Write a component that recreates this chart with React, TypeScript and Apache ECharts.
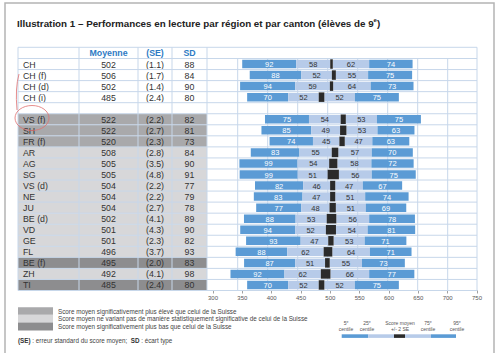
import React, { useEffect, useRef } from "react";
import * as echarts from "echarts";

// ---- data ----
const rowNames = ["CH", "CH (f)", "CH (d)", "CH (i)", "", "VS (f)", "SH", "FR (f)", "AR", "AG", "SG", "VS (d)", "NE", "JU", "BE (d)", "VD", "GE", "FL", "BE (f)", "ZH", "TI"];
const means = [502, 506, 502, 485, null, 522, 522, 520, 508, 505, 505, 504, 504, 504, 502, 501, 501, 496, 495, 492, 485];
const seValues = [1.1, 1.7, 1.4, 2.4, null, 2.2, 2.7, 2.3, 2.8, 3.5, 4.8, 2.2, 2.2, 2.7, 4.1, 4.3, 2.3, 3.7, 2.0, 4.1, 2.4];
const sdValues = [88, 84, 90, 80, null, 82, 81, 73, 84, 90, 91, 77, 79, 78, 89, 90, 82, 93, 83, 98, 80];
const p5to25 = [92, 88, 94, 70, null, 75, 85, 74, 83, 99, 99, 82, 83, 77, 88, 94, 93, 88, 87, 92, 70];
const p25toMean = [58, 52, 59, 52, null, 54, 49, 45, 55, 54, 51, 46, 47, 48, 53, 52, 47, 62, 51, 62, 52];
const meanTo75 = [62, 55, 64, 52, null, 53, 53, 47, 57, 58, 56, 47, 51, 51, 56, 54, 53, 64, 55, 66, 52];
const p75to95 = [74, 75, 73, 75, null, 75, 63, 63, 70, 72, 75, 67, 74, 69, 78, 81, 71, 71, 73, 77, 75];
const rowGroups = ["ch", "ch", "ch", "ch", "blank", "higher", "higher", "higher", "same", "same", "same", "same", "same", "same", "same", "same", "same", "same", "lower", "same", "lower"];
const axisMin = 300;
const axisMax = 750;
const axisStep = 50;

const headers = ["Moyenne", "(SE)", "SD"];
const legendTexts = [
  "Score moyen significativement plus élevé que celui de la Suisse",
  "Score moyen ne variant pas de manière statistiquement significative de celui de la Suisse",
  "Score moyen significativement plus bas que celui de la Suisse",
];
const keyLabels = [
  ["5{s|e}", "centile"],
  ["25{s|e}", "centile"],
  ["Score moyen", "+/- 2 SE"],
  ["75{s|e}", "centile"],
  ["95{s|e}", "centile"],
];

// ---- style ----
const FONT = "'Liberation Sans', Arial, sans-serif";
const DARK_BLUE = "#5b9bd5";
const LIGHT_BLUE = "#b7cbe9";
const BOX = "#2b2b2b";
const GRID_LINE = "#c7d7ea";
const TEXT = "#333333";
const groupFill: Record<string, string | null> = {
  ch: null,
  blank: null,
  higher: "#a9a9ab",
  same: "#d7d7d9",
  lower: "#8d8d8f",
};

const TABLE_LEFT = 18;
const TABLE_TOP = 47.3;
const HEADER_BOTTOM = 58.5;
const TABLE_BOTTOM = 290.5;
const TABLE_RIGHT = 477;
const colLines = [18, 79, 138, 172, 207];
const colCenters = [108.5, 155, 189.5];
const chartLines = [237.7, 267.7, 297.7, 327.7, 357.7, 387.7, 417.7, 447.7];

function txt(x: number, y: number, text: string, opts: any = {}) {
  const align = opts.align || "left";
  return {
    type: "text",
    x,
    y,
    z: opts.z ?? 110,
    style: {
      text,
      fill: opts.fill || TEXT,
      fontSize: opts.fontSize || 9,
      fontFamily: opts.fontFamily || FONT,
      fontWeight: opts.fontWeight || "normal",
      align,
      textAlign: align,
      verticalAlign: "middle",
      textVerticalAlign: "middle",
      rich: opts.rich,
    },
  };
}

export default function App() {
  const ref = useRef<HTMLDivElement>(null);

  useEffect(() => {
    if (!ref.current) return;
    const chart = echarts.init(ref.current, null, { renderer: "svg" });

    const seriesData = rowNames.map((_, i) => [axisMin, i]);

    const tableRender = (params: any, api: any) => {
      const i = params.dataIndex;
      const yc = api.coord([axisMin, i])[1];
      const band = api.size([0, 1])[1];
      const top = yc - band / 2;
      const children: any[] = [];
      const fill = groupFill[rowGroups[i]];
      if (fill) {
        children.push({
          type: "rect",
          shape: { x: TABLE_LEFT, y: top, width: colLines[4] - TABLE_LEFT, height: band },
          style: { fill },
        });
      }
      if (means[i] != null) {
        const ts = (x: number, t: string, align: string) => ({
          type: "text",
          x,
          y: yc + 0.5,
          style: {
            text: t,
            fill: TEXT,
            fontSize: 8.8,
            fontFamily: FONT,
            align,
            textAlign: align,
            verticalAlign: "middle",
            textVerticalAlign: "middle",
          },
        });
        children.push(ts(23, rowNames[i], "left"));
        children.push(ts(colCenters[0], String(means[i]), "center"));
        children.push(ts(colCenters[1], "(" + (seValues[i] as number).toFixed(1) + ")", "center"));
        children.push(ts(colCenters[2], String(sdValues[i]), "center"));
      }
      return { type: "group", children };
    };

    const lineRender = (params: any, api: any) => {
      const i = params.dataIndex;
      const yc = api.coord([axisMin, i])[1];
      const band = api.size([0, 1])[1];
      const yb = yc + band / 2;
      return {
        type: "line",
        shape: { x1: TABLE_LEFT, y1: yb, x2: TABLE_RIGHT, y2: yb },
        style: { stroke: GRID_LINE, lineWidth: 1 },
      };
    };

    const barRender = (params: any, api: any) => {
      const i = params.dataIndex;
      if (means[i] == null) return null;
      const m = means[i] as number;
      const se = seValues[i] as number;
      const a = p5to25[i] as number;
      const b = p25toMean[i] as number;
      const c = meanTo75[i] as number;
      const d = p75to95[i] as number;
      const lo = m - 2 * se;
      const hi = m + 2 * se;
      const yc = api.coord([m, i])[1];
      const band = api.size([0, 1])[1];
      const bh = band * 0.77;
      const boxH = band * 0.86;
      const X = (v: number) => api.coord([v, i])[0];
      const segs = [
        { from: lo - b - a, to: lo - b, fill: DARK_BLUE, label: a, color: "#ffffff" },
        { from: lo - b, to: lo, fill: LIGHT_BLUE, label: b, color: TEXT },
        { from: hi, to: hi + c, fill: LIGHT_BLUE, label: c, color: TEXT },
        { from: hi + c, to: hi + c + d, fill: DARK_BLUE, label: d, color: "#ffffff" },
      ];
      const children: any[] = [];
      segs.forEach((s) => {
        const x1 = X(s.from);
        const x2 = X(s.to);
        children.push({
          type: "rect",
          shape: { x: x1, y: yc - bh / 2, width: x2 - x1, height: bh },
          style: { fill: s.fill },
        });
      });
      const bx1 = X(lo);
      const bx2 = X(hi);
      children.push({
        type: "rect",
        shape: { x: bx1, y: yc - boxH / 2, width: bx2 - bx1, height: boxH },
        style: { fill: BOX },
      });
      segs.forEach((s) => {
        const cx = (X(s.from) + X(s.to)) / 2;
        children.push({
          type: "text",
          x: cx,
          y: yc + 0.5,
          style: {
            text: String(s.label),
            fill: s.color,
            fontSize: 7.5,
            fontFamily: FONT,
            align: "center",
            textAlign: "center",
            verticalAlign: "middle",
            textVerticalAlign: "middle",
          },
        });
      });
      return { type: "group", children };
    };

    const graphics: any[] = [];
    // outer page frame
    graphics.push({
      type: "rect",
      z: 0,
      shape: { x: 5, y: 3, width: 489, height: 360 },
      style: { fill: "none", stroke: "#b4b4b4", lineWidth: 1.5 },
    });
    // title
    graphics.push(
      txt(17, 23, "Illustration 1 – Performances en lecture par région et par canton (élèves de 9{sup|e})", {
        fontSize: 9.8,
        fontWeight: "bold",
        fill: "#222222",
        rich: {
          sup: { fontSize: 6, fontWeight: "bold", fontFamily: FONT, fill: "#222222", verticalAlign: "top", lineHeight: 12 },
        },
      })
    );
    // header
    headers.forEach((h, k) => {
      graphics.push(
        txt(colCenters[k], (TABLE_TOP + HEADER_BOTTOM) / 2 + 0.5, h, {
          align: "center",
          fontWeight: "bold",
          fill: "#2e7bc4",
          fontSize: 8.8,
        })
      );
    });
    // horizontal header lines
    [TABLE_TOP, HEADER_BOTTOM].forEach((y) => {
      graphics.push({
        type: "line",
        z: 100,
        shape: { x1: TABLE_LEFT, y1: y, x2: TABLE_RIGHT, y2: y },
        style: { stroke: GRID_LINE, lineWidth: 1 },
      });
    });
    // table verticals
    colLines.concat([TABLE_RIGHT]).forEach((x) => {
      graphics.push({
        type: "line",
        z: 100,
        shape: { x1: x, y1: TABLE_TOP, x2: x, y2: TABLE_BOTTOM },
        style: { stroke: GRID_LINE, lineWidth: 1 },
      });
    });
    // chart-area verticals
    chartLines.forEach((x) => {
      graphics.push({
        type: "line",
        z: 0,
        shape: { x1: x, y1: HEADER_BOTTOM, x2: x, y2: TABLE_BOTTOM },
        style: { stroke: GRID_LINE, lineWidth: 1 },
      });
    });
    // left legend
    const legendFills = [groupFill.higher, groupFill.same, groupFill.lower];
    const legendY = [307.3, 314.9, 322.6];
    const legendH = [7.4, 7.5, 8];
    legendFills.forEach((f, k) => {
      graphics.push({
        type: "rect",
        z: 50,
        shape: { x: 18, y: legendY[k], width: 35, height: legendH[k] },
        style: { fill: f as string },
      });
      graphics.push(txt(58, legendY[k] + legendH[k] / 2, legendTexts[k], { fontSize: 6.3, fill: "#444444" }));
    });
    graphics.push(
      txt(18, 340, "{b|(SE)} : erreur standard du score moyen;  {b|SD} : écart type", {
        fontSize: 6.3,
        fill: "#444444",
        rich: {
          b: { fontWeight: "bold", fontSize: 6.3, fontFamily: FONT, fill: "#333333" },
        },
      })
    );
    // right key
    const keyX = [346, 367, 400, 428, 457];
    keyLabels.forEach((lab, k) => {
      graphics.push(
        txt(keyX[k], 322.7, lab[0], {
          align: "center",
          fontSize: 5,
          fill: "#555555",
          rich: { s: { fontSize: 3.5, fontFamily: FONT, fill: "#555555", verticalAlign: "top", lineHeight: 6 } },
        })
      );
      graphics.push(txt(keyX[k], 329, lab[1], { align: "center", fontSize: 5, fill: "#555555" }));
    });
    const keySegs = [
      [341.7, 368.3, DARK_BLUE],
      [368.3, 394, LIGHT_BLUE],
      [394, 405, BOX],
      [405, 431, LIGHT_BLUE],
      [431, 456, DARK_BLUE],
    ];
    keySegs.forEach((s: any) => {
      graphics.push({
        type: "rect",
        z: 50,
        shape: { x: s[0], y: 334.3, width: s[1] - s[0], height: 3.6 },
        style: { fill: s[2] },
      });
    });
    // red annotation
    graphics.push({
      type: "ellipse",
      z: 120,
      shape: { cx: 32, cy: 118, rx: 17, ry: 12.5 },
      style: { fill: "none", stroke: "#e07070", lineWidth: 1, opacity: 0.8 },
    });
    graphics.push({
      type: "bezierCurve",
      z: 120,
      shape: { x1: 19, y1: 74, cpx1: 15, cpy1: 88, x2: 17, y2: 110 },
      style: { fill: "none", stroke: "#e07070", lineWidth: 1, opacity: 0.8 },
    });

    chart.setOption({
      animation: false,
      backgroundColor: "#ffffff",
      grid: { left: 213, right: 500 - 477, top: HEADER_BOTTOM, bottom: 353 - TABLE_BOTTOM, containLabel: false },
      xAxis: {
        type: "value",
        min: axisMin,
        max: axisMax,
        interval: axisStep,
        axisLine: { show: true, lineStyle: { color: GRID_LINE } },
        axisTick: { show: true, length: 3, lineStyle: { color: "#a0a0a0" } },
        splitLine: { show: false },
        axisLabel: { fontSize: 6, color: "#555555", fontFamily: FONT, margin: 4 },
      },
      yAxis: {
        type: "category",
        inverse: true,
        data: rowNames,
        axisLine: { show: false },
        axisTick: { show: false },
        axisLabel: { show: false },
        splitLine: { show: false },
      },
      graphic: { elements: graphics },
      series: [
        { type: "custom", z: 2, clip: false, renderItem: tableRender, data: seriesData, silent: true },
        { type: "custom", z: 3, clip: false, renderItem: lineRender, data: seriesData, silent: true },
        { type: "custom", z: 4, clip: false, renderItem: barRender, data: seriesData, silent: true },
      ],
    });

    return () => chart.dispose();
  }, []);

  return (
    <div
      ref={ref}
      style={{ position: "fixed", left: 0, top: 0, width: 500, height: 353, background: "#ffffff" }}
    />
  );
}
